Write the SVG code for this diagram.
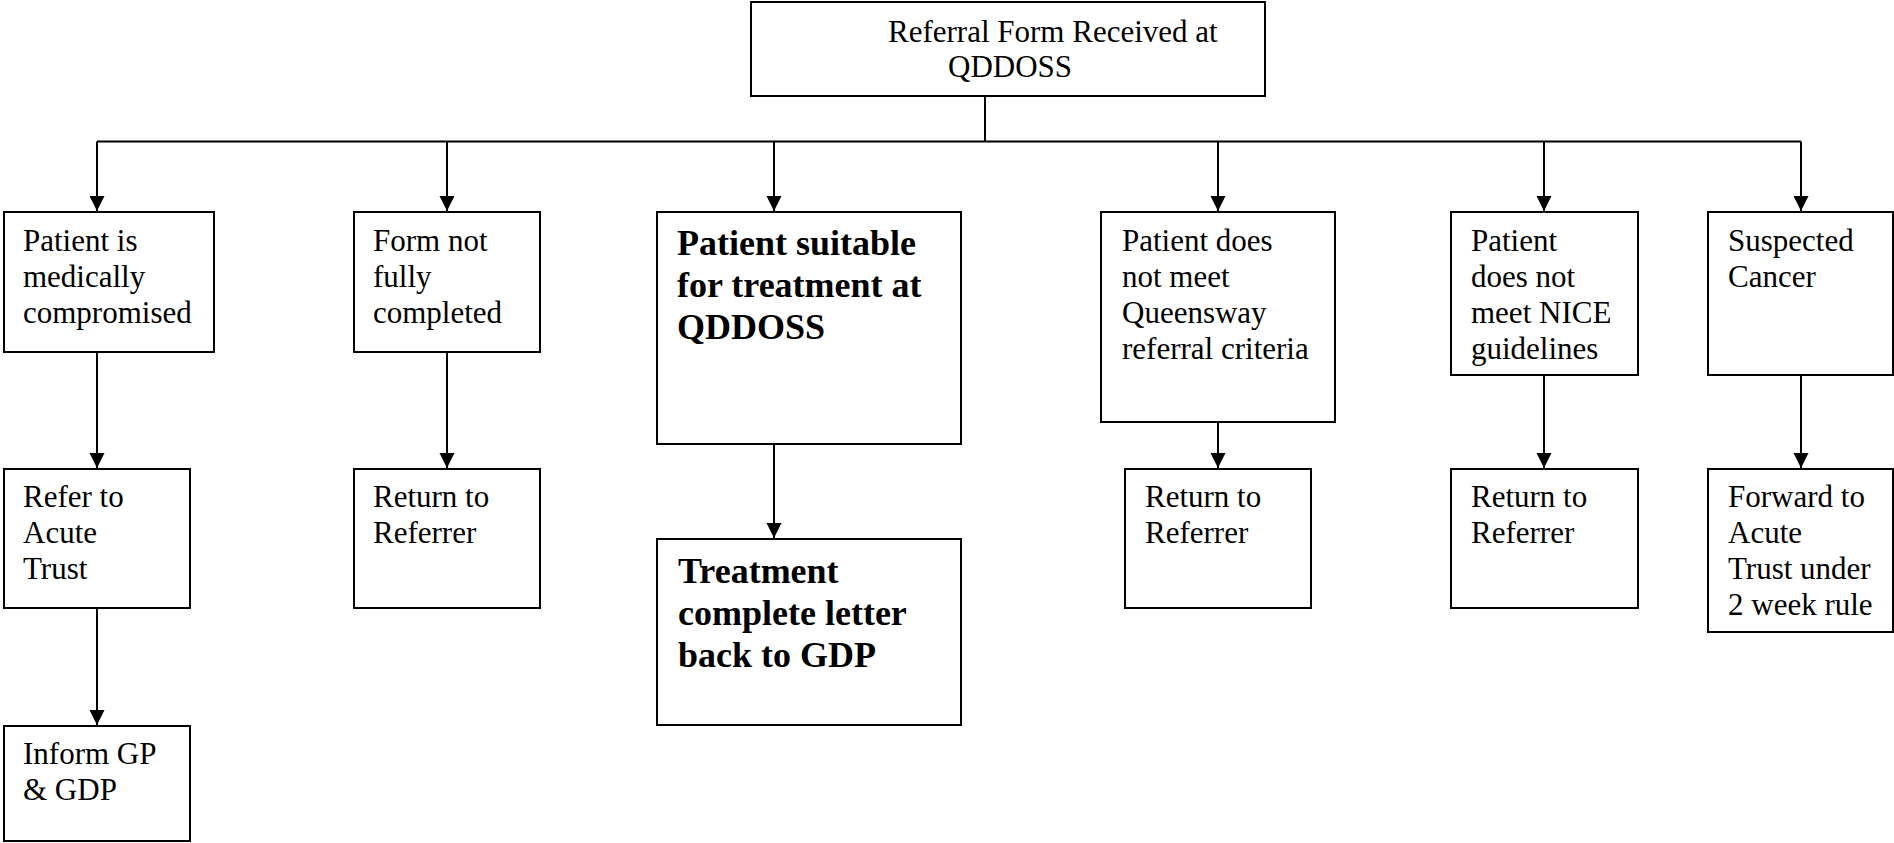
<svg xmlns="http://www.w3.org/2000/svg" width="1894" height="843" viewBox="0 0 1894 843">
<defs>
<style>
.box{fill:#fff;stroke:#000;stroke-width:2}
.t{font-family:"Liberation Serif","Times New Roman",serif;font-size:31px;fill:#000}
.b{font-family:"Liberation Serif","Times New Roman",serif;font-size:36px;font-weight:bold;fill:#000}
.c{fill:none;stroke:#000;stroke-width:2}
</style>
<marker id="ah" markerUnits="userSpaceOnUse" markerWidth="16" markerHeight="16" refX="15" refY="7.5" orient="auto">
<path d="M0,0 L15,7.5 L0,15 z" fill="#000"/>
</marker>
</defs>
<rect width="1894" height="843" fill="#fff"/>
<g id="connectors">
<path class="c" d="M985,96 V141.5 M97,141.5 H1801"/>
<path class="c" marker-end="url(#ah)" d="M97,141.5 V211"/>
<path class="c" marker-end="url(#ah)" d="M447,141.5 V211"/>
<path class="c" marker-end="url(#ah)" d="M774,141.5 V211"/>
<path class="c" marker-end="url(#ah)" d="M1218,141.5 V211"/>
<path class="c" marker-end="url(#ah)" d="M1544,141.5 V211"/>
<path class="c" marker-end="url(#ah)" d="M1801,141.5 V211"/>
<path class="c" marker-end="url(#ah)" d="M97,352 V468"/>
<path class="c" marker-end="url(#ah)" d="M447,352 V468"/>
<path class="c" marker-end="url(#ah)" d="M774,444 V538"/>
<path class="c" marker-end="url(#ah)" d="M1218,422 V468"/>
<path class="c" marker-end="url(#ah)" d="M1544,375 V468"/>
<path class="c" marker-end="url(#ah)" d="M1801,375 V468"/>
<path class="c" marker-end="url(#ah)" d="M97,608 V725"/>
</g>
<g id="n-top">
<rect class="box" x="751" y="2" width="514" height="94"/>
<text class="t" x="888" y="42">Referral Form Received at</text>
<text class="t" x="948" y="77">QDDOSS</text>
</g>
<g id="n-medcomp">
<rect class="box" x="4" y="212" width="210" height="140"/>
<text class="t" x="23" y="251">Patient is<tspan x="23" dy="36">medically</tspan><tspan x="23" dy="36">compromised</tspan></text>
</g>
<g id="n-form">
<rect class="box" x="354" y="212" width="186" height="140"/>
<text class="t" x="373" y="251">Form not<tspan x="373" dy="36">fully</tspan><tspan x="373" dy="36">completed</tspan></text>
</g>
<g id="n-suitable">
<rect class="box" x="657" y="212" width="304" height="232"/>
<text class="b" x="677" y="255">Patient suitable<tspan x="677" dy="42">for treatment at</tspan><tspan x="677" dy="42">QDDOSS</tspan></text>
</g>
<g id="n-queensway">
<rect class="box" x="1101" y="212" width="234" height="210"/>
<text class="t" x="1122" y="251">Patient does<tspan x="1122" dy="36">not meet</tspan><tspan x="1122" dy="36">Queensway</tspan><tspan x="1122" dy="36">referral criteria</tspan></text>
</g>
<g id="n-nice">
<rect class="box" x="1451" y="212" width="187" height="163"/>
<text class="t" x="1471" y="251">Patient<tspan x="1471" dy="36">does not</tspan><tspan x="1471" dy="36">meet NICE</tspan><tspan x="1471" dy="36">guidelines</tspan></text>
</g>
<g id="n-cancer">
<rect class="box" x="1708" y="212" width="185" height="163"/>
<text class="t" x="1728" y="251">Suspected<tspan x="1728" dy="36">Cancer</tspan></text>
</g>
<g id="n-refer-acute">
<rect class="box" x="4" y="469" width="186" height="139"/>
<text class="t" x="23" y="507">Refer to<tspan x="23" dy="36">Acute</tspan><tspan x="23" dy="36">Trust</tspan></text>
</g>
<g id="n-return1">
<rect class="box" x="354" y="469" width="186" height="139"/>
<text class="t" x="373" y="507">Return to<tspan x="373" dy="36">Referrer</tspan></text>
</g>
<g id="n-treatment">
<rect class="box" x="657" y="539" width="304" height="186"/>
<text class="b" x="678" y="583">Treatment<tspan x="678" dy="42">complete letter</tspan><tspan x="678" dy="42">back to GDP</tspan></text>
</g>
<g id="n-return2">
<rect class="box" x="1125" y="469" width="186" height="139"/>
<text class="t" x="1145" y="507">Return to<tspan x="1145" dy="36">Referrer</tspan></text>
</g>
<g id="n-return3">
<rect class="box" x="1451" y="469" width="187" height="139"/>
<text class="t" x="1471" y="507">Return to<tspan x="1471" dy="36">Referrer</tspan></text>
</g>
<g id="n-forward">
<rect class="box" x="1708" y="469" width="185" height="163"/>
<text class="t" x="1728" y="507">Forward to<tspan x="1728" dy="36">Acute</tspan><tspan x="1728" dy="36">Trust under</tspan><tspan x="1728" dy="36">2 week rule</tspan></text>
</g>
<g id="n-inform">
<rect class="box" x="4" y="726" width="186" height="115"/>
<text class="t" x="23" y="764">Inform GP<tspan x="23" dy="36">&amp; GDP</tspan></text>
</g>
</svg>
